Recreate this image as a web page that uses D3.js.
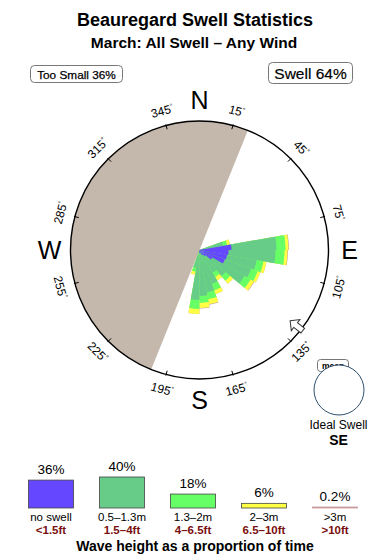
<!DOCTYPE html>
<html>
<head>
<meta charset="utf-8">
<script src="https://cdn.jsdelivr.net/npm/d3@7"></script>
<style>
  body { margin: 0; background: #fff; }
  svg { display: block; font-family: "Liberation Sans", Arial, Helvetica, sans-serif; }
</style>
</head>
<body>
<svg id="chart" width="390" height="560"></svg>
<script>
// legend categories
const categories = ["no swell", "0.5–1.3m", "1.3–2m", "2–3m", ">3m"];
const feetLabels = ["<1.5ft", "1.5–4ft", "4–6.5ft", "6.5–10ft", ">10ft"];
const sharePct = [36, 40, 18, 6, 0.2];
const colors = ["#6447ff", "#66cc88", "#66ff66", "#ffff44", "#c99a9a"];

// rose bins (start bearing, 10 deg wide); radial lengths, circle rim = 100
const binStarts = [70, 80, 90, 100, 110, 120, 130, 140, 150, 160, 170, 180, 190];
const noSwell = [3.1, 24.8, 22.5, 21.7, 20.9, 11.6, 6.2, 4.7, 3.9, 2.3, 2.3, 2.3, 1.6];
const swellSmall = [15.5, 34.9, 36.4, 23.3, 21.7, 28.7, 20.2, 15.5, 24.0, 31.0, 33.3, 36.4, 12.4];
const swellMid = [3.1, 7.0, 7.0, 5.4, 5.4, 5.4, 4.7, 3.9, 5.4, 5.4, 5.4, 7.0, 3.1];
const swellBig = [2.3, 2.3, 2.3, 2.3, 2.3, 3.1, 3.1, 3.1, 3.1, 3.9, 3.9, 3.9, 2.3];
const swellHuge = [0, 0.4, 0.4, 0, 0, 0.4, 0, 0, 0, 0.4, 0.4, 0, 0];

const degreeTicks = [15, 45, 75, 105, 135, 165, 195, 225, 255, 285, 315, 345];
const cardinals = ["N", "E", "S", "W"];
const cardinalBearings = [0, 90, 180, 270];
const shadowFrom = 202, shadowTo = 382; // blocked directions (too small)

const svg = d3.select("#chart");
const cx = 199.5, cy = 250, R = 129;
const rad = (deg) => (deg * Math.PI) / 180;
const polar = (bearing, r) => [cx + r * Math.sin(rad(bearing)), cy - r * Math.cos(rad(bearing))];

// titles
svg.append("text").attr("x", 195).attr("y", 26).attr("text-anchor", "middle")
  .attr("font-size", 18).attr("font-weight", "bold").text("Beauregard Swell Statistics");
svg.append("text").attr("x", 194).attr("y", 48).attr("text-anchor", "middle")
  .attr("font-size", 15.5).attr("font-weight", "bold").text("March: All Swell – Any Wind");

// summary boxes
svg.append("rect").attr("x", 30.5).attr("y", 65.5).attr("width", 92).attr("height", 17)
  .attr("rx", 4).attr("fill", "#fff").attr("stroke", "#777");
svg.append("text").attr("x", 76.5).attr("y", 78.5).attr("text-anchor", "middle")
  .attr("font-size", 11.8).attr("stroke", "#000").attr("stroke-width", 0.25)
  .text("Too Small " + sharePct[0] + "%");
svg.append("rect").attr("x", 268.5).attr("y", 62.5).attr("width", 84).attr("height", 21)
  .attr("rx", 4).attr("fill", "#fff").attr("stroke", "#777");
svg.append("text").attr("x", 310.5).attr("y", 79).attr("text-anchor", "middle")
  .attr("font-size", 15.5).attr("stroke", "#000").attr("stroke-width", 0.2)
  .text("Swell " + (100 - sharePct[0]) + "%");

// rose
const g = svg.append("g").attr("transform", `translate(${cx},${cy})`);
const rScale = d3.scaleLinear().domain([0, 100]).range([0, R]);

g.append("path")
  .attr("d", d3.arc()({ innerRadius: 0, outerRadius: R, startAngle: rad(shadowFrom), endAngle: rad(shadowTo) }))
  .attr("fill", "#c4b8ac");

const keys = ["noSwell", "swellSmall", "swellMid", "swellBig", "swellHuge"];
const rows = binStarts.map((b, i) => ({
  bin: b, noSwell: noSwell[i], swellSmall: swellSmall[i], swellMid: swellMid[i],
  swellBig: swellBig[i], swellHuge: swellHuge[i],
}));
const stacked = d3.stack().keys(keys)(rows);
const arc = d3.arc();

// draw outer layers first so inner ones sit on top
stacked.slice().reverse().forEach((layer) => {
  const ci = keys.indexOf(layer.key);
  g.append("g").selectAll("path").data(layer).join("path")
    .attr("d", (d) => arc({
      innerRadius: 0,
      outerRadius: rScale(d[1]),
      startAngle: rad(d.data.bin),
      endAngle: rad(d.data.bin + 10),
    }))
    .attr("fill", colors[ci]);
});

g.append("circle").attr("r", R).attr("fill", "none").attr("stroke", "#000").attr("stroke-width", 1.4);

// ticks and degree labels
degreeTicks.forEach((b) => {
  const [x1, y1] = polar(b, R - 4);
  const [x2, y2] = polar(b, R + 1);
  svg.append("line").attr("x1", x1).attr("y1", y1).attr("x2", x2).attr("y2", y2)
    .attr("stroke", "#000").attr("stroke-width", 1);
  const [tx, ty] = polar(b, R + 15);
  let rot = b;
  if (b > 90 && b < 270) rot = b - 180;
  else if (b >= 270) rot = b - 360;
  const t = svg.append("text")
    .attr("transform", `translate(${tx},${ty}) rotate(${rot})`)
    .attr("text-anchor", "middle").attr("dy", "0.35em").attr("font-size", 12);
  t.append("tspan").text(b);
  t.append("tspan").attr("font-size", 7).attr("dy", "-0.6em").text("°");
});

cardinals.forEach((c, i) => {
  const [x, y] = polar(cardinalBearings[i], 150);
  svg.append("text").attr("x", x).attr("y", y).attr("dy", "0.36em")
    .attr("text-anchor", "middle").attr("font-size", 25).text(c);
});

// ideal swell arrow on the rim
const [ax, ay] = polar(128, 124);
svg.append("path")
  .attr("d", "M0,-9L7,-2L3,-2L3,7L-3,7L-3,-2L-7,-2Z")
  .attr("transform", `translate(${ax},${ay}) rotate(${128 + 180})`)
  .attr("fill", "#fff").attr("stroke", "#333").attr("stroke-width", 1);

// mean indicator
svg.append("rect").attr("x", 317.5).attr("y", 359.5).attr("width", 31).attr("height", 12)
  .attr("rx", 3).attr("fill", "#fff").attr("stroke", "#777");
svg.append("text").attr("x", 333).attr("y", 368.5).attr("text-anchor", "middle")
  .attr("font-size", 8.5).attr("font-weight", "bold").text("mean");
svg.append("circle").attr("cx", 339).attr("cy", 390).attr("r", 25)
  .attr("fill", "#fff").attr("stroke", "#2f4f6f").attr("stroke-width", 1);
svg.append("text").attr("x", 338.5).attr("y", 429).attr("text-anchor", "middle")
  .attr("font-size", 12).text("Ideal Swell");
svg.append("text").attr("x", 338.5).attr("y", 445).attr("text-anchor", "middle")
  .attr("font-size", 14).attr("font-weight", "bold").text("SE");

// legend
const xLeg = d3.scalePoint().domain(categories).range([51, 335]);
const hLeg = d3.scaleLinear().domain([0, 40]).range([0, 31]);
const baseY = 508, boxW = 45;
const leg = svg.append("g").selectAll("g").data(categories).join("g")
  .attr("transform", (d) => `translate(${xLeg(d)},0)`);
leg.append("rect")
  .attr("x", -boxW / 2).attr("width", boxW)
  .attr("y", (d, i) => baseY - Math.max(hLeg(sharePct[i]), 1))
  .attr("height", (d, i) => Math.max(hLeg(sharePct[i]), 1))
  .attr("fill", (d, i) => colors[i])
  .attr("stroke", (d, i) => (i === 4 ? colors[i] : "#444")).attr("stroke-width", 0.8);
leg.append("text").attr("text-anchor", "middle").attr("font-size", 13.5)
  .attr("y", (d, i) => baseY - Math.max(hLeg(sharePct[i]), 1) - 6)
  .text((d, i) => sharePct[i] + "%");
leg.append("text").attr("text-anchor", "middle").attr("font-size", 11.5)
  .attr("y", 521).text((d) => d);
leg.append("text").attr("text-anchor", "middle").attr("font-size", 11.5)
  .attr("font-weight", "bold").attr("fill", "#7a0f0f")
  .attr("y", 534).text((d, i) => feetLabels[i]);
svg.append("text").attr("x", 195).attr("y", 551).attr("text-anchor", "middle")
  .attr("font-size", 14).attr("font-weight", "bold").text("Wave height as a proportion of time");
</script>
</body>
</html>
